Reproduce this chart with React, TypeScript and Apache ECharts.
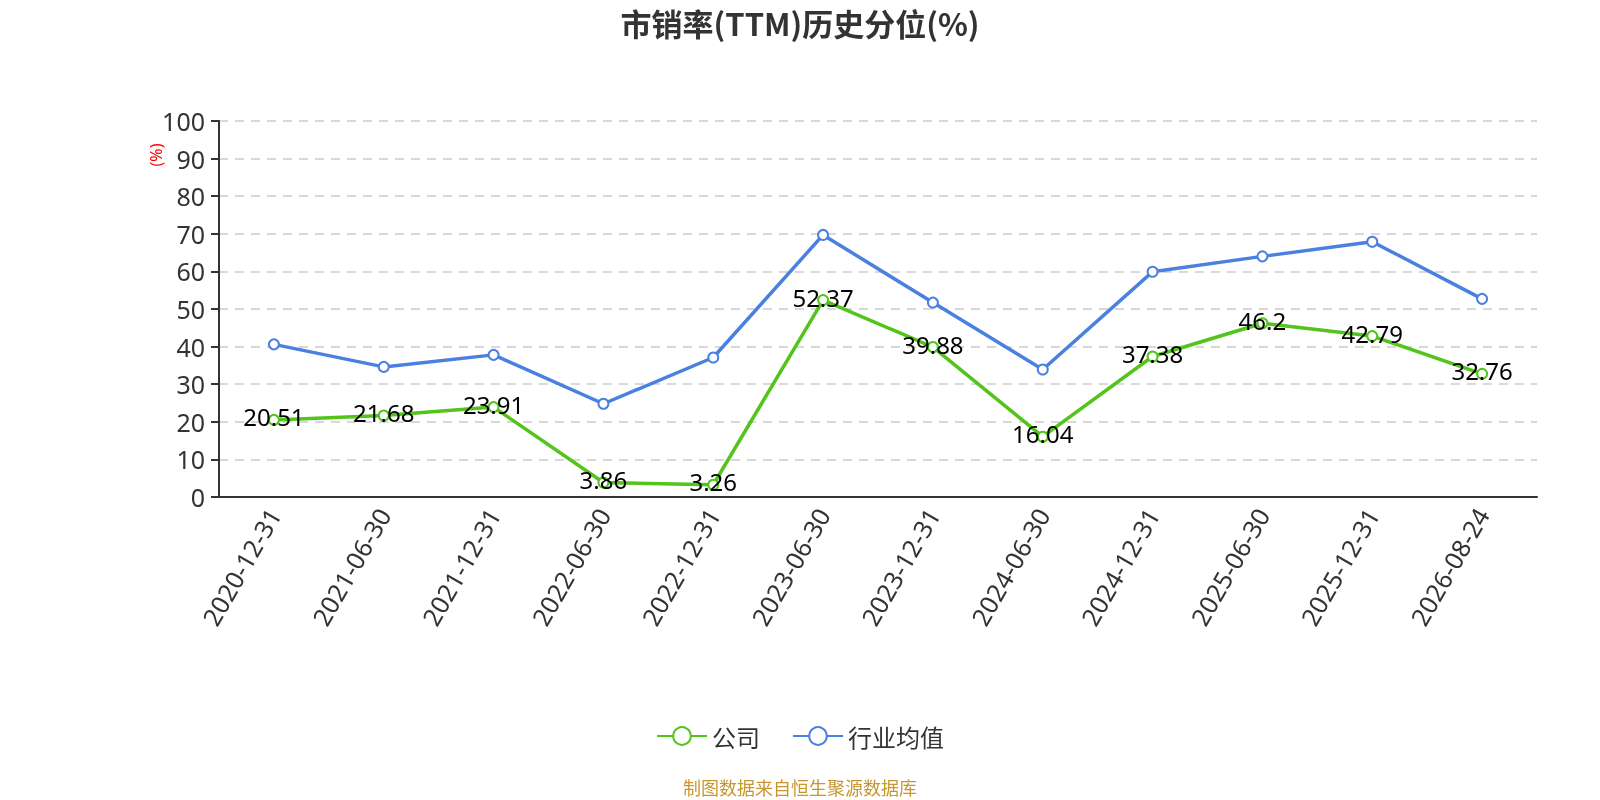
import React, { useEffect, useRef } from "react";
import * as echarts from "echarts";

const categories = [
  "2020-12-31", "2021-06-30", "2021-12-31", "2022-06-30", "2022-12-31", "2023-06-30",
  "2023-12-31", "2024-06-30", "2024-12-31", "2025-06-30", "2025-12-31", "2026-08-24",
];
const companyValues = [20.51, 21.68, 23.91, 3.86, 3.26, 52.37, 39.88, 16.04, 37.38, 46.2, 42.79, 32.76];
const industryValues = [40.6, 34.6, 37.8, 24.8, 37.1, 69.7, 51.7, 33.9, 59.9, 64.0, 67.9, 52.7];
const yTicks = { min: 0, max: 100, interval: 10 };

const FONT = "'Noto Sans', 'Noto Sans CJK SC', sans-serif";
const CJK = "'Noto Sans CJK SC', sans-serif";

export default function App() {
  const ref = useRef<HTMLDivElement>(null);
  useEffect(() => {
    if (!ref.current) return;
    const chart = echarts.init(ref.current, null, { renderer: "svg" });
    chart.setOption({
      animation: false,
      textStyle: { fontFamily: FONT },
      title: {
        text: "市销率(TTM)历史分位(%)",
        left: "center",
        top: 2,
        textStyle: { fontSize: 31, fontWeight: "bold", color: "#333", fontFamily: CJK },
      },
      grid: { left: 219, right: 63, top: 121, bottom: 303 },
      legend: {
        top: 719,
        left: "center",
        itemWidth: 50,
        itemHeight: 22,
        itemGap: 32,
        textStyle: { fontSize: 24, color: "#333", fontFamily: CJK },
        data: ["公司", "行业均值"],
      },
      graphic: [
        {
          type: "text",
          left: "center",
          top: 778,
          style: { text: "制图数据来自恒生聚源数据库", fill: "#c8962e", fontSize: 18, fontFamily: CJK },
        },
        {
          type: "text",
          x: 156,
          y: 155,
          rotation: Math.PI / 2,
          style: { text: "(%)", fill: "red", fontSize: 16, align: "center", verticalAlign: "middle", fontFamily: FONT },
        },
      ],
      xAxis: {
        type: "category",
        data: categories,
        boundaryGap: true,
        axisLine: { lineStyle: { color: "#333", width: 2 } },
        axisTick: { lineStyle: { color: "#333", width: 2 }, length: 8 },
        axisLabel: { rotate: 60, fontSize: 25, color: "#333", margin: 13, fontFamily: FONT },
      },
      yAxis: {
        type: "value",
        min: yTicks.min,
        max: yTicks.max,
        interval: yTicks.interval,
        axisLine: { show: true, lineStyle: { color: "#333", width: 2 } },
        axisTick: { show: true, length: 8, lineStyle: { color: "#333", width: 2 } },
        axisLabel: { fontSize: 25, color: "#333", margin: 14, fontFamily: FONT },
        splitLine: { lineStyle: { type: [9, 7], color: "#ccc", width: 1.5 } },
      },
      series: [
        {
          name: "公司",
          type: "line",
          data: companyValues,
          symbol: "emptyCircle",
          symbolSize: 10,
          color: "#52c41a",
          lineStyle: { width: 3.5, color: "#52c41a" },
          itemStyle: { color: "#52c41a", borderWidth: 2 },
          label: {
            show: true,
            position: "inside",
            offset: [0, -3],
            fontSize: 24,
            color: "#000",
            fontFamily: FONT,
          },
          z: 3,
        },
        {
          name: "行业均值",
          type: "line",
          data: industryValues,
          symbol: "emptyCircle",
          symbolSize: 10,
          color: "#4a80e0",
          lineStyle: { width: 3.5, color: "#4a80e0" },
          itemStyle: { color: "#4a80e0", borderWidth: 2 },
          z: 2,
        },
      ],
    });
    return () => chart.dispose();
  }, []);
  return <div ref={ref} style={{ position: "fixed", left: 0, top: 0, width: 1600, height: 800 }} />;
}
